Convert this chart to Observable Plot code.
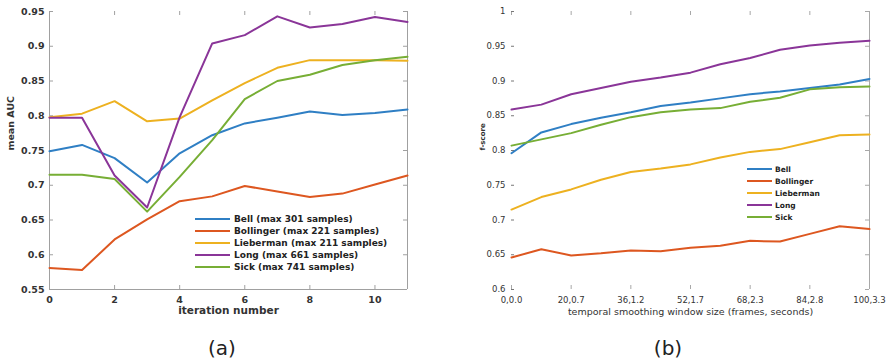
<!DOCTYPE html>
<html>
<head>
<meta charset="utf-8">
<script src="https://cdn.jsdelivr.net/npm/d3@7"></script>
<script src="https://cdn.jsdelivr.net/npm/@observablehq/plot@0.6"></script>
<style>
  html, body { margin: 0; padding: 0; background: #fff; }
  #wrap { position: relative; width: 886px; height: 364px; overflow: hidden; font-family: "DejaVu Sans", sans-serif; }
  .panel { position: absolute; top: 0; }
  .legend { position: absolute; font-family: "DejaVu Sans", sans-serif; font-weight: bold; color: #222; }
  .legend .row { position: absolute; white-space: nowrap; }
  .legend .sw { position: absolute; height: 0; border-top: 2px solid; }
  .legend .lb { position: absolute; transform: translateY(-50%); }
  .cap { position: absolute; top: 336px; font-family: "DejaVu Sans", sans-serif; font-size: 20px; color: #222; transform: translateX(-50%); }
</style>
</head>
<body>
<div id="wrap"></div>
<script>
// ---------- data ----------
const seriesNames = ["Bell", "Bollinger", "Lieberman", "Long", "Sick"];
const maxSamples = [301, 221, 211, 661, 741];
const seriesColors = ["#2f7fc4", "#dd5720", "#edb120", "#8a3598", "#77ae35"];

// (a) mean AUC vs iteration number
const iterations = [0, 1, 2, 3, 4, 5, 6, 7, 8, 9, 10, 11];
const aucBell      = [0.749, 0.758, 0.739, 0.704, 0.746, 0.772, 0.789, 0.797, 0.806, 0.801, 0.804, 0.809];
const aucBollinger = [0.581, 0.578, 0.622, 0.651, 0.677, 0.684, 0.699, 0.691, 0.683, 0.688, 0.701, 0.714];
const aucLieberman = [0.798, 0.803, 0.821, 0.792, 0.796, 0.822, 0.847, 0.869, 0.880, 0.880, 0.880, 0.879];
const aucLong      = [0.797, 0.797, 0.714, 0.668, 0.798, 0.904, 0.916, 0.943, 0.927, 0.932, 0.942, 0.935];
const aucSick      = [0.715, 0.715, 0.709, 0.662, 0.712, 0.765, 0.824, 0.850, 0.859, 0.873, 0.880, 0.885];
const aucTicksX = [0, 2, 4, 6, 8, 10];
const aucTicksY = [0.55, 0.6, 0.65, 0.7, 0.75, 0.8, 0.85, 0.9, 0.95];

// (b) f-score vs temporal smoothing window (index positions along the axis)
const windowSteps = [0, 1, 2, 3, 4, 5, 6, 7, 8, 9, 10, 11, 12];
const fBell      = [0.796, 0.826, 0.838, 0.847, 0.855, 0.864, 0.869, 0.875, 0.881, 0.885, 0.890, 0.895, 0.903];
const fBollinger = [0.646, 0.658, 0.649, 0.652, 0.656, 0.655, 0.660, 0.663, 0.670, 0.669, 0.680, 0.691, 0.687];
const fLieberman = [0.715, 0.733, 0.744, 0.758, 0.769, 0.774, 0.780, 0.790, 0.798, 0.802, 0.812, 0.822, 0.823];
const fLong      = [0.859, 0.866, 0.881, 0.890, 0.899, 0.905, 0.912, 0.924, 0.933, 0.945, 0.951, 0.955, 0.958];
const fSick      = [0.807, 0.816, 0.825, 0.837, 0.848, 0.855, 0.859, 0.861, 0.870, 0.876, 0.888, 0.891, 0.892];
const windowTickSteps = [0, 2, 4, 6, 8, 10, 12];
const windowTickLabels = ["0,0.0", "20,0.7", "36,1.2", "52,1.7", "68,2.3", "84,2.8", "100,3.3"];
const fTicksY = [0.6, 0.65, 0.7, 0.75, 0.8, 0.85, 0.9, 0.95, 1];

// ---------- build ----------
const wrap = document.getElementById("wrap");
const fmt = d => String(+d.toFixed(2));

const aucSeries = [aucBell, aucBollinger, aucLieberman, aucLong, aucSick];
const fSeries = [fBell, fBollinger, fLieberman, fLong, fSick];
const aucData = seriesNames.flatMap((name, k) => iterations.map((x, i) => ({name, x, y: aucSeries[k][i]})));
const fData = seriesNames.flatMap((name, k) => windowSteps.map((x, i) => ({name, x, y: fSeries[k][i]})));

const H = 320;
// Left panel
{
  const W = 443, mL = 49, mR = 36, mT = 11, mB = 31;
  const iw = W - mL - mR, ih = H - mT - mB;
  const frame = "#a0a0a0";
  const p = Plot.plot({
    width: W, height: H, marginLeft: mL, marginRight: mR, marginTop: mT, marginBottom: mB,
    x: {domain: [d3.min(iterations), d3.max(iterations)]},
    y: {domain: [d3.min(aucTicksY), d3.max(aucTicksY)]},
    color: {domain: seriesNames, range: seriesColors},
    style: {fontFamily: "DejaVu Sans", fontSize: "9.5px", fontWeight: "bold", color: "#333", background: "transparent", overflow: "visible"},
    marks: [
      Plot.ruleX([d3.min(iterations)], {stroke: frame}),
      Plot.ruleX([d3.max(iterations)], {stroke: frame}),
      Plot.ruleY([d3.min(aucTicksY)], {stroke: frame}),
      Plot.tickX(aucTicksX, {insetTop: ih - 4, stroke: frame}),
      Plot.tickX(aucTicksX, {insetBottom: ih - 4, stroke: frame}),
      Plot.tickY(aucTicksY, {insetLeft: iw - 4, stroke: frame}),
      Plot.tickY(aucTicksY, {insetRight: iw - 4, stroke: frame}),
      Plot.axisX({ticks: aucTicksX, tickSize: 0, tickPadding: 7, label: null, tickFormat: d => String(d)}),
      Plot.axisY({ticks: aucTicksY, tickSize: 0, tickPadding: 5, label: null, tickFormat: fmt}),
      Plot.line(aucData, {x: "x", y: "y", z: "name", stroke: "name", strokeWidth: 2}),
      Plot.text(["iteration number"], {frameAnchor: "bottom", dy: 24, fontSize: 10.5, fontWeight: "bold", fill: "#333"}),
      Plot.text(["mean AUC"], {frameAnchor: "left", rotate: -90, dx: -39, fontSize: 9.5, fontWeight: "bold", fill: "#333"})
    ]
  });
  p.classList.add("panel");
  p.style.left = "0px";
  wrap.appendChild(p);
}
// Right panel
{
  const W = 443, mL = 68, mR = 17, mT = 11, mB = 31;
  const iw = W - mL - mR, ih = H - mT - mB;
  const frame = "#a8a8a8";
  const p = Plot.plot({
    width: W, height: H, marginLeft: mL, marginRight: mR, marginTop: mT, marginBottom: mB,
    x: {domain: [d3.min(windowSteps), d3.max(windowSteps)]},
    y: {domain: [d3.min(fTicksY), d3.max(fTicksY)]},
    color: {domain: seriesNames, range: seriesColors},
    style: {fontFamily: "DejaVu Sans", fontSize: "8.5px", color: "#333", background: "transparent", overflow: "visible"},
    marks: [
      Plot.ruleX([d3.max(windowSteps)], {stroke: frame}),
      Plot.tickX(windowTickSteps, {insetTop: ih - 4, stroke: frame}),
      Plot.tickX(windowTickSteps, {insetBottom: ih - 4, stroke: frame}),
      Plot.tickY(fTicksY, {insetLeft: iw - 4, stroke: frame}),
      Plot.tickY(fTicksY, {insetRight: iw - 3, stroke: "#777"}),
      Plot.axisX({ticks: windowTickSteps, tickSize: 0, tickPadding: 7, label: null,
        tickFormat: d => windowTickLabels[windowTickSteps.indexOf(d)]}),
      Plot.axisY({ticks: fTicksY, tickSize: 0, tickPadding: 6, label: null, tickFormat: fmt}),
      Plot.line(fData, {x: "x", y: "y", z: "name", stroke: "name", strokeWidth: 2}),
      Plot.text(["temporal smoothing window size (frames, seconds)"], {frameAnchor: "bottom", dy: 25, fontSize: 9.5, fill: "#333"}),
      Plot.text(["f-score"], {frameAnchor: "left", rotate: -90, dx: -29, fontSize: 7, fontWeight: "bold", fill: "#333"})
    ]
  });
  p.classList.add("panel");
  p.style.left = "443px";
  wrap.appendChild(p);
}

// Legends (HTML overlays, built from data arrays)
function legend(left, top, lineW, gap, rowH, fontSize, labels) {
  const lg = document.createElement("div");
  lg.className = "legend";
  lg.style.left = left + "px";
  lg.style.top = top + "px";
  lg.style.fontSize = fontSize + "px";
  labels.forEach((lab, i) => {
    const sw = document.createElement("div");
    sw.className = "sw";
    sw.style.left = "0px";
    sw.style.top = (i * rowH - 1) + "px";
    sw.style.width = lineW + "px";
    sw.style.borderTopColor = seriesColors[i];
    const t = document.createElement("div");
    t.className = "lb";
    t.style.left = (lineW + gap) + "px";
    t.style.top = (i * rowH) + "px";
    t.style.whiteSpace = "nowrap";
    t.textContent = lab;
    lg.appendChild(sw);
    lg.appendChild(t);
  });
  wrap.appendChild(lg);
}
legend(195, 219, 35, 4, 12, 9, seriesNames.map((n, i) => `${n} (max ${maxSamples[i]} samples)`));
legend(747, 169, 25, 3, 12, 7.5, seriesNames);

// Captions
[["(a)", 222], ["(b)", 668]].forEach(([t, x]) => {
  const c = document.createElement("div");
  c.className = "cap";
  c.style.left = x + "px";
  c.textContent = t;
  wrap.appendChild(c);
});
</script>
</body>
</html>
